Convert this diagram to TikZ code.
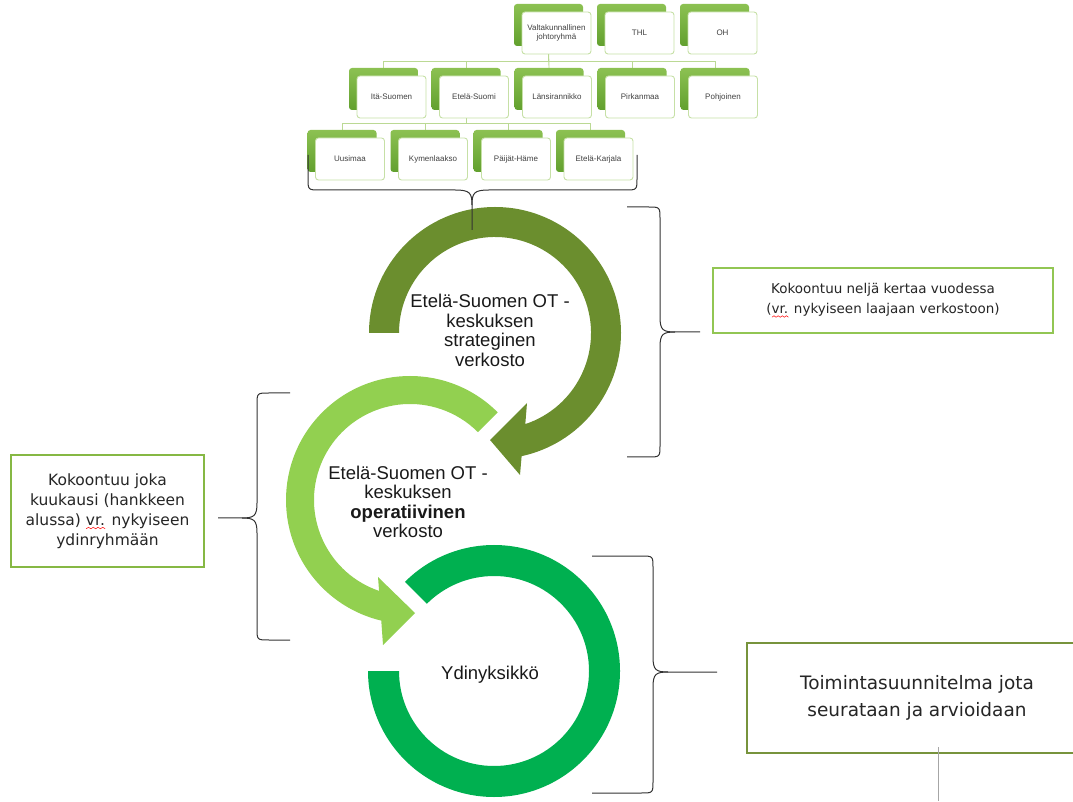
\documentclass[tikz,border=0pt]{standalone}
\usepackage{fontspec}
\setmainfont{Liberation Sans}
\newfontfamily\boxfont{DejaVu Sans}
\usetikzlibrary{backgrounds}
\definecolor{darkring}{HTML}{6B8E2E}
\definecolor{lightring}{HTML}{92D050}
\definecolor{greenring}{HTML}{00B050}
\definecolor{orgtop}{HTML}{8CC152}
\definecolor{orgbot}{HTML}{62A02E}
\definecolor{orgline}{HTML}{C6E0A6}
\definecolor{connline}{HTML}{BBD994}
\definecolor{boxlight}{HTML}{92C653}
\definecolor{boxmid}{HTML}{86B844}
\definecolor{boxolive}{HTML}{77933C}
\definecolor{txt}{HTML}{262626}
\newlength\swlen
\newcommand\spellwave[1]{\settowidth\swlen{#1}\pgfmathsetmacro\swn{\swlen/8}\rlap{\pgfinterruptpicture\tikz[baseline=0pt,x=1pt,y=1pt]\draw[red,line width=0.5pt] (0,-3.5) \foreach \k in {1,...,8}{ -- ({\k*\swn},{-3.5+1.5*mod(\k,2)})};\endpgfinterruptpicture}#1}
\tikzset{
  orgback/.style={rectangle, rounded corners=3pt, minimum width=69pt, minimum height=42pt, top color=orgtop, bottom color=orgbot, draw=none, inner sep=0pt},
  orgfront/.style={rectangle, rounded corners=3pt, minimum width=69pt, minimum height=42pt, fill=white, draw=orgline, line width=0.9pt, inner sep=1pt, align=center, text=black!75, font=\fontsize{8}{8.5}\selectfont, xshift=8pt, yshift=-8pt},
  orgconn/.style={draw=connline, line width=0.9pt},
  ringtext/.style={align=center, text=black!90, font=\fontsize{18.5}{19.5}\selectfont, inner sep=0pt},
  notebox/.style={rectangle, fill=white, align=center, text=txt, inner sep=2pt},
  bracestyle/.style={draw=black!80, line width=1pt, line join=round},
}
\begin{document}
\begin{tikzpicture}[x=1pt,y=1pt]
\useasboundingbox (0,0) rectangle (1073,801);
\clip (0,0) rectangle (1073,801);
% ---------- org chart ----------
\node[orgback] (v) at (548.5,776) {};
\node[orgback] (thl) at (631.5,776) {};
\node[orgback] (oh) at (714.5,776) {};
\node[orgback] (ita) at (383.5,712) {};
\node[orgback] (es) at (466,712) {};
\node[orgback] (lan) at (549,712) {};
\node[orgback] (pir) at (632,712) {};
\node[orgback] (poh) at (715,712) {};
\node[orgback] (uus) at (342,650) {};
\node[orgback] (kym) at (425,650) {};
\node[orgback] (pai) at (508,650) {};
\node[orgback] (ek) at (590.5,650) {};
\begin{scope}[on background layer]
\draw[orgconn] (v.south) -- ++(0,-15) -| (ita.north);
\draw[orgconn] (v.south) -- ++(0,-15) -| (es.north);
\draw[orgconn] (v.south) -- (lan.north);
\draw[orgconn] (v.south) -- ++(0,-15) -| (pir.north);
\draw[orgconn] (v.south) -- ++(0,-15) -| (poh.north);
\draw[orgconn] (es.south) -- ++(0,-13) -| (uus.north);
\draw[orgconn] (es.south) -- ++(0,-13) -| (kym.north);
\draw[orgconn] (es.south) -- ++(0,-13) -| (pai.north);
\draw[orgconn] (es.south) -- ++(0,-13) -| (ek.north);
\end{scope}
\node[orgfront] (vf) at (v) {Valtakunnallinen\\johtoryhmä};
\node[orgfront] (thlf) at (thl) {THL};
\node[orgfront] (ohf) at (oh) {OH};
\node[orgfront] (itaf) at (ita) {Itä-Suomen};
\node[orgfront] (esf) at (es) {Etelä-Suomi};
\node[orgfront] (lanf) at (lan) {Länsirannikko};
\node[orgfront] (pirf) at (pir) {Pirkanmaa};
\node[orgfront] (pohf) at (poh) {Pohjoinen};
\node[orgfront] (uusf) at (uus) {Uusimaa};
\node[orgfront] (kymf) at (kym) {Kymenlaakso};
\node[orgfront] (paif) at (pai) {Päijät-Häme};
\node[orgfront] (ekf) at (ek) {Etelä-Karjala};
% ---------- rings ----------
\begin{scope}[shift={(495,468)}]
\fill[darkring] (180:126pt) arc[start angle=180,end angle=-77.8,radius=126pt] -- (25,-142) -- (-5,-107) -- (32,-70) -- (-71.6:96pt) arc[start angle=-71.6,end angle=180,radius=96pt] -- cycle;
\end{scope}
\begin{scope}[shift={(410,301)}]
\fill[lightring] (45:124pt) arc[start angle=45,end angle=256.6,radius=124pt] -- (-27,-145) -- (5,-113) -- (-32,-77) -- (251.2:96pt) arc[start angle=251.2,end angle=45,radius=96pt] -- cycle;
\end{scope}
\begin{scope}[shift={(494,130)}]
\fill[greenring] (135:126pt) arc[start angle=135,end angle=-180,radius=126pt] -- (-180:95pt) arc[start angle=-180,end angle=135,radius=95pt] -- cycle;
\end{scope}
\node[ringtext] (t1) at (490,470.5) {Etelä-Suomen OT -\\keskuksen\\strateginen\\verkosto};
\node[ringtext] (t2) at (408,299) {Etelä-Suomen OT -\\keskuksen\\\textbf{operatiivinen}\\verkosto};
\node[ringtext] (t3) at (490,126) {Ydinyksikkö};
% ---------- braces ----------
\draw[bracestyle] (308,646) -- (308,623) .. controls (308,611) .. (320,611) -- (455,611) .. controls (470,611) and (472,608) .. (472,596) -- (472,571);
\draw[bracestyle] (472,596) .. controls (472,608) and (474,611) .. (489,611) -- (625,611) .. controls (637,611) .. (637,623) -- (637,646);
\draw[bracestyle] (627,594) -- (648,594) .. controls (660,594) .. (660,582) -- (660,484) .. controls (660,471) and (663,469) .. (675,469) -- (700,469);
\draw[bracestyle] (675,469) .. controls (663,469) and (660,467) .. (660,454) -- (660,356) .. controls (660,344) .. (648,344) -- (627,344);
\draw[bracestyle] (290,408) -- (269,408) .. controls (257,408) .. (257,396) -- (257,298) .. controls (257,285) and (254,283) .. (242,283) -- (218,283);
\draw[bracestyle] (242,283) .. controls (254,283) and (257,281) .. (257,268) -- (257,173) .. controls (257,161) .. (269,161) -- (290,161);
\draw[bracestyle] (592,245) -- (641,245) .. controls (653,245) .. (653,233) -- (653,144) .. controls (653,131) and (656,129) .. (668,129) -- (717,129);
\draw[bracestyle] (668,129) .. controls (656,129) and (653,127) .. (653,114) -- (653,20) .. controls (653,8) .. (641,8) -- (592,8);
% ---------- note boxes ----------
\node[notebox, draw=boxlight, line width=1.5pt, minimum width=340pt, minimum height=65pt, font=\boxfont\fontsize{13.5}{20}\selectfont] (n1) at (883,500.5) {Kokoontuu neljä kertaa vuodessa\\(\spellwave{vr.} nykyiseen laajaan verkostoon)};
\node[notebox, draw=boxmid, line width=2.5pt, minimum width=193pt, minimum height=112pt, font=\boxfont\fontsize{15.5}{20}\selectfont] (n2) at (107.5,290) {Kokoontuu joka\\kuukausi (hankkeen\\alussa) \spellwave{vr.} nykyiseen\\ydinryhmään};
\node[notebox, draw=boxolive, line width=1.3pt, minimum width=340pt, minimum height=110pt, font=\boxfont\fontsize{18.5}{27}\selectfont] (n3) at (917,103) {Toimintasuunnitelma jota\\seurataan ja arvioidaan};
\coordinate (g1) at (938,54);
\coordinate (g2) at (938,0);
\draw[draw=black!35, line width=1pt] (g1) -- (g2);
\end{tikzpicture}
\end{document}
